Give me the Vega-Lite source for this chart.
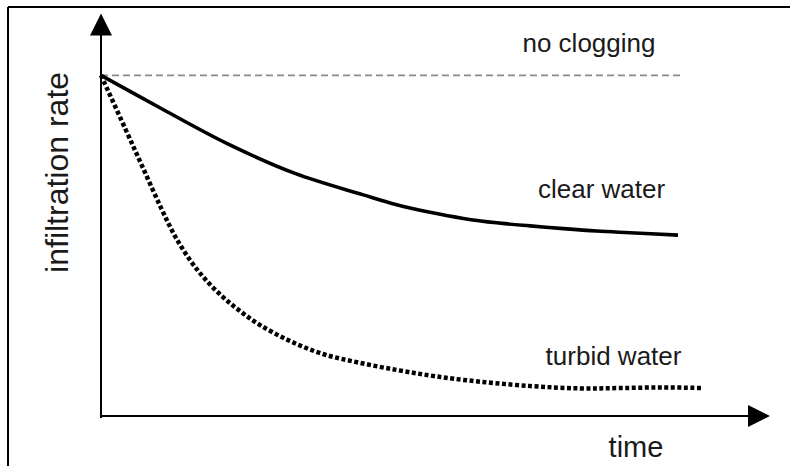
{
  "$schema": "https://vega.github.io/schema/vega-lite/v6.json",
  "width": 669,
  "height": 402,
  "autosize": {"type": "none"},
  "padding": {"left": 101, "top": 14, "right": 20, "bottom": 50},
  "background": "white",
  "config": {"view": {"stroke": null}},
  "datasets": {
    "curves": [
      {"series": "clear water", "time": 0, "rate": 1.0},
      {"series": "clear water", "time": 0.907, "rate": 0.902},
      {"series": "clear water", "time": 1.903, "rate": 0.798},
      {"series": "clear water", "time": 2.9, "rate": 0.712},
      {"series": "clear water", "time": 3.921, "rate": 0.649},
      {"series": "clear water", "time": 4.42, "rate": 0.62},
      {"series": "clear water", "time": 4.918, "rate": 0.598},
      {"series": "clear water", "time": 5.416, "rate": 0.58},
      {"series": "clear water", "time": 5.915, "rate": 0.567},
      {"series": "clear water", "time": 6.413, "rate": 0.558},
      {"series": "clear water", "time": 6.911, "rate": 0.55},
      {"series": "clear water", "time": 7.41, "rate": 0.543},
      {"series": "clear water", "time": 7.907, "rate": 0.538},
      {"series": "clear water", "time": 8.625, "rate": 0.531},
      {"series": "turbid water", "time": 0, "rate": 1.0},
      {"series": "turbid water", "time": 0.359, "rate": 0.845},
      {"series": "turbid water", "time": 0.628, "rate": 0.728},
      {"series": "turbid water", "time": 0.897, "rate": 0.611},
      {"series": "turbid water", "time": 1.106, "rate": 0.528},
      {"series": "turbid water", "time": 1.33, "rate": 0.458},
      {"series": "turbid water", "time": 1.555, "rate": 0.402},
      {"series": "turbid water", "time": 1.824, "rate": 0.349},
      {"series": "turbid water", "time": 2.078, "rate": 0.308},
      {"series": "turbid water", "time": 2.377, "rate": 0.267},
      {"series": "turbid water", "time": 2.825, "rate": 0.22},
      {"series": "turbid water", "time": 3.318, "rate": 0.182},
      {"series": "turbid water", "time": 3.871, "rate": 0.156},
      {"series": "turbid water", "time": 4.425, "rate": 0.135},
      {"series": "turbid water", "time": 4.918, "rate": 0.119},
      {"series": "turbid water", "time": 5.411, "rate": 0.106},
      {"series": "turbid water", "time": 6.413, "rate": 0.088},
      {"series": "turbid water", "time": 7.16, "rate": 0.081},
      {"series": "turbid water", "time": 7.758, "rate": 0.082},
      {"series": "turbid water", "time": 8.401, "rate": 0.084},
      {"series": "turbid water", "time": 9.0, "rate": 0.082}
    ],
    "labels": [
      {"label": "no clogging", "time": 7.294, "rate": 1.068},
      {"label": "clear water", "time": 7.482, "rate": 0.64},
      {"label": "turbid water", "time": 7.661, "rate": 0.15}
    ]
  },
  "layer": [
    {
      "data": {"values": [{}]},
      "mark": {"type": "rule", "color": "black", "strokeWidth": 2, "clip": false},
      "encoding": {
        "x": {"datum": -1.39, "type": "quantitative", "scale": {"domain": [0, 10], "nice": false, "zero": false}, "axis": null},
        "x2": {"datum": 11},
        "y": {"datum": 1.2005, "type": "quantitative", "scale": {"domain": [0, 1.18], "nice": false, "zero": false}, "axis": null}
      }
    },
    {
      "data": {"values": [{}]},
      "mark": {"type": "rule", "color": "black", "strokeWidth": 2, "clip": false},
      "encoding": {
        "x": {"datum": -1.39, "type": "quantitative"},
        "y": {"datum": 1.2005, "type": "quantitative"},
        "y2": {"datum": -0.3}
      }
    },
    {
      "data": {"values": [{}]},
      "mark": {"type": "rule", "color": "black", "strokeWidth": 2, "clip": false},
      "encoding": {
        "x": {"datum": 0, "type": "quantitative"},
        "y": {"datum": -0.006, "type": "quantitative"},
        "y2": {"datum": 1.15}
      }
    },
    {
      "data": {"values": [{}]},
      "mark": {"type": "rule", "color": "black", "strokeWidth": 2, "clip": false},
      "encoding": {
        "x": {"datum": 0, "type": "quantitative"},
        "x2": {"datum": 9.8},
        "y": {"datum": 0, "type": "quantitative"}
      }
    },
    {
      "data": {"values": [{}]},
      "mark": {"type": "point", "shape": "M0,-1L1,1L-1,1Z", "size": 484, "filled": true, "color": "black", "opacity": 1, "clip": false},
      "encoding": {
        "x": {"datum": 0, "type": "quantitative"},
        "y": {"datum": 1.149, "type": "quantitative"}
      }
    },
    {
      "data": {"values": [{}]},
      "mark": {"type": "point", "shape": "M1,0L-1,1L-1,-1Z", "size": 484, "filled": true, "color": "black", "opacity": 1, "clip": false},
      "encoding": {
        "x": {"datum": 9.836, "type": "quantitative"},
        "y": {"datum": 0, "type": "quantitative"}
      }
    },
    {
      "data": {"values": [{}]},
      "mark": {"type": "rule", "color": "#8a8a8a", "strokeWidth": 1.8, "strokeDash": [7, 4]},
      "encoding": {
        "x": {"datum": 0, "type": "quantitative"},
        "x2": {"datum": 8.69},
        "y": {"datum": 1.0, "type": "quantitative"}
      }
    },
    {
      "data": {"name": "curves"},
      "transform": [{"filter": "datum.series === 'clear water'"}],
      "mark": {"type": "line", "color": "black", "strokeWidth": 3.6, "interpolate": "catmull-rom"},
      "encoding": {
        "x": {"field": "time", "type": "quantitative"},
        "y": {"field": "rate", "type": "quantitative"}
      }
    },
    {
      "data": {"name": "curves"},
      "transform": [{"filter": "datum.series === 'turbid water'"}],
      "mark": {"type": "line", "color": "black", "strokeWidth": 4.5, "strokeDash": [4, 2.5], "strokeCap": "butt", "interpolate": "catmull-rom"},
      "encoding": {
        "x": {"field": "time", "type": "quantitative"},
        "y": {"field": "rate", "type": "quantitative"}
      }
    },
    {
      "data": {"name": "labels"},
      "mark": {"type": "text", "font": "Liberation Sans", "fontSize": 26, "color": "#1a1a1a", "align": "center", "baseline": "alphabetic"},
      "encoding": {
        "x": {"field": "time", "type": "quantitative"},
        "y": {"field": "rate", "type": "quantitative"},
        "text": {"field": "label"}
      }
    },
    {
      "data": {"values": [{}]},
      "mark": {"type": "text", "text": "time", "font": "Liberation Sans", "fontSize": 29, "color": "#1a1a1a", "align": "center", "baseline": "alphabetic", "clip": false},
      "encoding": {
        "x": {"datum": 7.997, "type": "quantitative"},
        "y": {"datum": -0.12, "type": "quantitative"}
      }
    },
    {
      "data": {"values": [{}]},
      "mark": {"type": "text", "text": "infiltration rate", "font": "Liberation Sans", "fontSize": 32, "color": "#1a1a1a", "align": "center", "baseline": "alphabetic", "angle": 270, "clip": false},
      "encoding": {
        "x": {"datum": -0.493, "type": "quantitative"},
        "y": {"datum": 0.715, "type": "quantitative"}
      }
    }
  ]
}
